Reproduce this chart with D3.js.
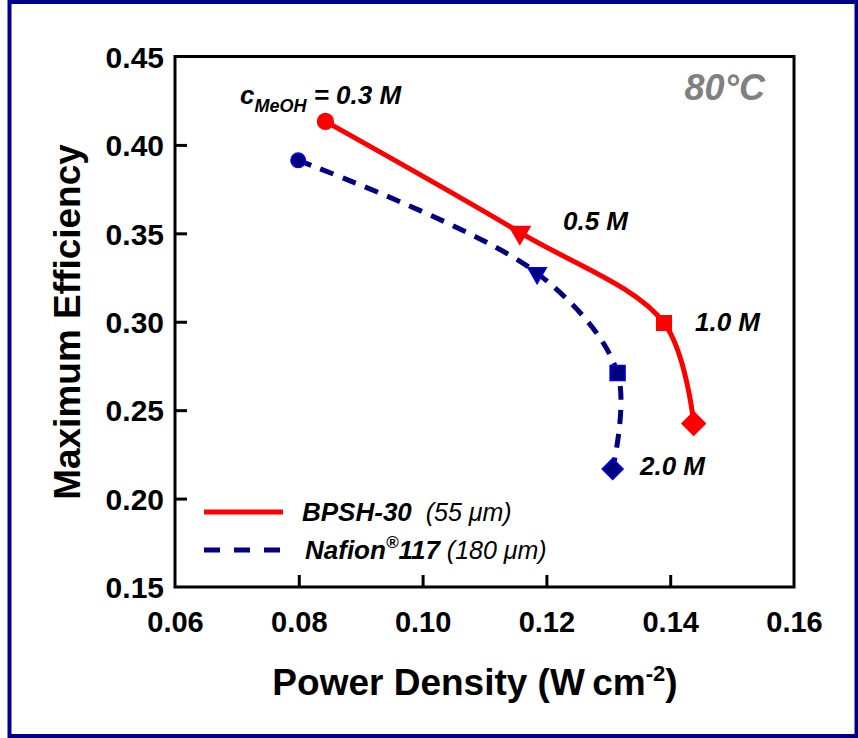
<!DOCTYPE html>
<html lang="en">
<head>
<meta charset="UTF-8">
<title>Maximum Efficiency vs Power Density</title>
<script src="https://cdn.jsdelivr.net/npm/d3@7"></script>
<style>
  body { margin: 0; background: #fff; }
  svg text { font-family: Arial, "Liberation Sans", sans-serif; }
</style>
</head>
<body>
<script>
// data
const concentrations = ["0.3 M", "0.5 M", "1.0 M", "2.0 M"];
const markerShapes = ["circle", "triangleDown", "square", "diamond"];
const bpshPower = [0.0843, 0.1157, 0.1390, 0.1438];
const bpshEff = [0.4133, 0.3505, 0.2993, 0.2425];
const nafionPower = [0.0799, 0.1185, 0.1315, 0.1307];
const nafionEff = [0.3913, 0.3275, 0.2710, 0.2167];
const xTicks = [0.06, 0.08, 0.10, 0.12, 0.14, 0.16];
const yTicks = [0.15, 0.20, 0.25, 0.30, 0.35, 0.40, 0.45];

const W = 858, H = 738;
const margin = {left: 175, right: 64, top: 56.5, bottom: 151};

const svg = d3.select("body").append("svg")
    .attr("width", W).attr("height", H);

// outer navy frame
svg.append("rect")
    .attr("x", 9.5).attr("y", 2).attr("width", 847).attr("height", 734)
    .attr("fill", "none").attr("stroke", "#00008b").attr("stroke-width", 4);

const x = d3.scaleLinear().domain([0.06, 0.16]).range([margin.left, W - margin.right]);
const y = d3.scaleLinear().domain([0.15, 0.45]).range([H - margin.bottom, margin.top]);

// plot box
svg.append("rect")
    .attr("x", x(0.06)).attr("y", y(0.45))
    .attr("width", x(0.16) - x(0.06)).attr("height", y(0.15) - y(0.45))
    .attr("fill", "none").attr("stroke", "#000").attr("stroke-width", 3);

// inward ticks
const xAxis = svg.append("g")
    .attr("transform", `translate(0,${y(0.15)})`)
    .call(d3.axisBottom(x).tickValues(xTicks).tickSizeInner(-12).tickSizeOuter(0).tickPadding(24)
        .tickFormat(d3.format(".2f")));
xAxis.select(".domain").remove();
xAxis.selectAll("line").attr("stroke-width", 3)
    .filter(d => d === 0.06 || d === 0.16).remove();
xAxis.selectAll("text").attr("font-size", 29).attr("font-weight", "bold").attr("fill", "#000");

const yAxis = svg.append("g")
    .attr("transform", `translate(${x(0.06)},0)`)
    .call(d3.axisLeft(y).tickValues(yTicks).tickSizeInner(-12).tickSizeOuter(0).tickPadding(11)
        .tickFormat(d3.format(".2f")));
yAxis.select(".domain").remove();
yAxis.selectAll("line").attr("stroke-width", 3)
    .filter(d => d === 0.15 || d === 0.45).remove();
yAxis.selectAll("text").attr("font-size", 30).attr("font-weight", "bold").attr("fill", "#000")
    .attr("dy", "0.36em");

// axis titles
const xt = svg.append("text")
    .attr("x", 475).attr("y", 695)
    .attr("text-anchor", "middle").attr("font-size", 37).attr("font-weight", "bold");
xt.append("tspan").text("Power Density (W\u2009cm");
xt.append("tspan").attr("font-size", 22).attr("dy", -14).text("-2");
xt.append("tspan").attr("dy", 14).text(")");

svg.append("text")
    .attr("transform", "translate(80,322) rotate(-90)")
    .attr("text-anchor", "middle").attr("font-size", 37).attr("font-weight", "bold")
    .text("Maximum Efficiency");

// curves
const line = d3.line()
    .x(d => x(d[0])).y(d => y(d[1]))
    .curve(d3.curveCatmullRom.alpha(0.5));

const bpsh = bpshPower.map((p, i) => [p, bpshEff[i]]);
const nafion = nafionPower.map((p, i) => [p, nafionEff[i]]);

svg.append("path").datum(bpsh).attr("d", line)
    .attr("fill", "none").attr("stroke", "#ff0000").attr("stroke-width", 5);
svg.append("path").datum(nafion).attr("d", line)
    .attr("fill", "none").attr("stroke", "#000080").attr("stroke-width", 5)
    .attr("stroke-dasharray", "14,10");

// markers
const shapeType = {
    circle: d3.symbolCircle, triangleDown: d3.symbolTriangle,
    square: d3.symbolSquare, diamond: d3.symbolSquare
};
const turn = {circle: 0, triangleDown: 180, square: 0, diamond: 45};
function drawMarkers(pts, sizes, fill, stroke) {
    svg.append("g").selectAll("path")
        .data(pts).join("path")
        .attr("d", (d, i) => d3.symbol().type(shapeType[markerShapes[i]]).size(sizes[i])())
        .attr("transform", (d, i) => `translate(${x(d[0])},${y(d[1])}) rotate(${turn[markerShapes[i]]})`)
        .attr("fill", fill).attr("stroke", stroke).attr("stroke-width", 1.3);
}
drawMarkers(bpsh, [200, 190, 220, 280], "#ff0000", "#ff0000");
drawMarkers(nafion, [170, 150, 230, 225], "#000080", "#0000ff");

// concentration labels
const lab = svg.append("g").attr("font-weight", "bold").attr("font-style", "italic")
    .attr("font-size", 26).attr("fill", "#000");
const first = lab.append("text").attr("x", 240).attr("y", 104);
first.append("tspan").text("c");
first.append("tspan").attr("font-size", 18).attr("dy", 8).text("MeOH");
first.append("tspan").attr("dy", -8).text(" = " + concentrations[0]);
lab.append("text").attr("x", 563).attr("y", 230).text(concentrations[1]);
lab.append("text").attr("x", 695).attr("y", 331).text(concentrations[2]);
lab.append("text").attr("x", 640).attr("y", 475).text(concentrations[3]);

svg.append("text")
    .attr("x", 765).attr("y", 100).attr("text-anchor", "end")
    .attr("font-size", 36).attr("font-weight", "bold").attr("font-style", "italic")
    .attr("fill", "#808080").text("80°C");

// legend
const legend = svg.append("g");
legend.append("line").attr("x1", 204).attr("x2", 283).attr("y1", 512).attr("y2", 512)
    .attr("stroke", "#ff0000").attr("stroke-width", 5);
legend.append("line").attr("x1", 204).attr("x2", 283).attr("y1", 550).attr("y2", 550)
    .attr("stroke", "#000080").attr("stroke-width", 5).attr("stroke-dasharray", "16,14");

const l1 = legend.append("text").attr("x", 302).attr("y", 521)
    .attr("font-size", 26).attr("font-style", "italic");
l1.append("tspan").attr("font-weight", "bold").text("BPSH-30");
l1.append("tspan").attr("font-size", 25).text("\u00a0 (55 \u03bcm)");

const l2 = legend.append("text").attr("x", 305).attr("y", 559)
    .attr("font-size", 26).attr("font-style", "italic");
l2.append("tspan").attr("font-weight", "bold").text("Nafion");
l2.append("tspan").attr("font-weight", "bold").attr("font-size", 17).attr("dy", -11).text("®");
l2.append("tspan").attr("font-weight", "bold").attr("dy", 11).text("117");
l2.append("tspan").attr("font-size", 25).text(" (180 \u03bcm)");
</script>
</body>
</html>
